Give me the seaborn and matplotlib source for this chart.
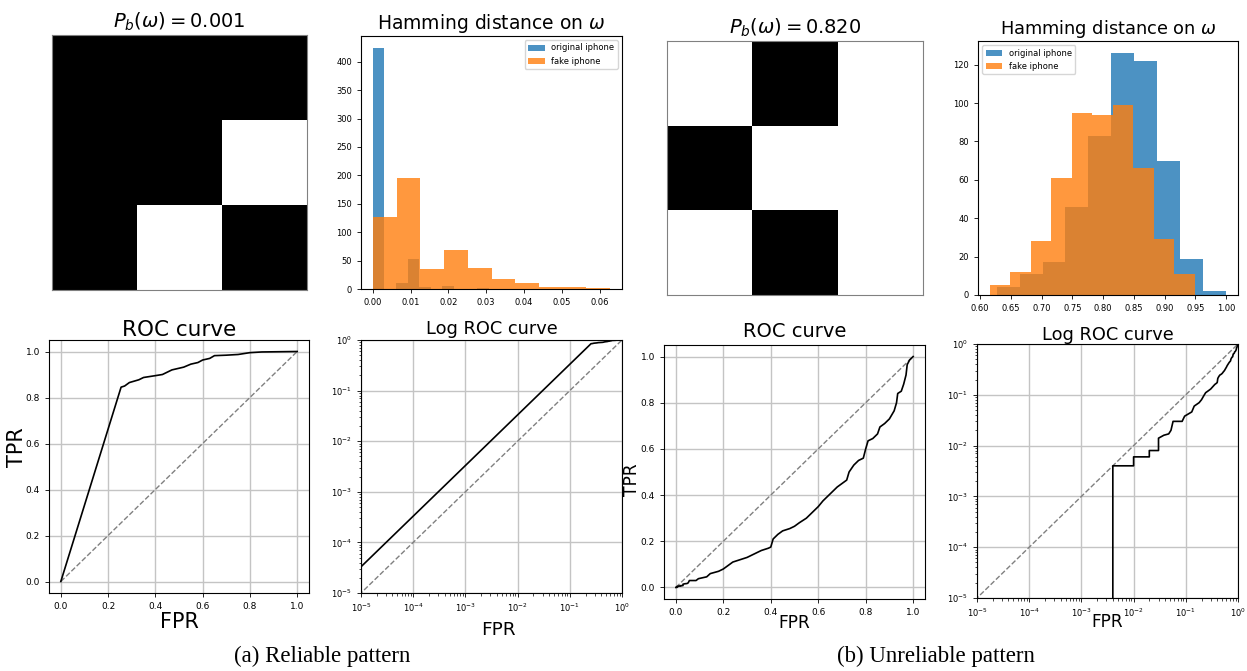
"""Reliable vs unreliable pattern: patterns, Hamming histograms and ROC curves"""

import matplotlib
matplotlib.use("Agg")
import matplotlib.pyplot as plt
from matplotlib.colors import ListedColormap
from matplotlib.patches import Patch
import numpy as np
import seaborn as sns

W, H = 1247, 671

# 3x3 patterns, 1 = white cell, 0 = black cell
PATTERN_A = [[0, 0, 0], [0, 0, 1], [0, 1, 0]]
PATTERN_B = [[1, 0, 1], [0, 1, 1], [1, 0, 1]]
PB_A = 0.001
PB_B = 0.820

# Hamming-distance histograms (bin edges + counts)
H1_ORIG_EDGES = [0.0, 0.00307, 0.00614, 0.00921, 0.01228, 0.01535,
                 0.01842, 0.02149, 0.02456, 0.02763, 0.0307]
H1_ORIG_COUNTS = [424, 0, 11, 53, 4, 0, 6, 0, 0, 2]
H1_FAKE_EDGES = [0.0, 0.00628, 0.01256, 0.01884, 0.02512, 0.0314,
                 0.03768, 0.04396, 0.05024, 0.05652, 0.0628]
H1_FAKE_COUNTS = [127, 195, 36, 69, 37, 18, 10, 3, 3, 2]

H2_ORIG_EDGES = [0.627, 0.6643, 0.7016, 0.7389, 0.7762, 0.8135,
                 0.8508, 0.8881, 0.9254, 0.9627, 1.0]
H2_ORIG_COUNTS = [4, 11, 17, 46, 83, 126, 122, 70, 19, 2]
H2_FAKE_EDGES = [0.616, 0.6493, 0.6826, 0.7159, 0.7492, 0.7825,
                 0.8158, 0.8491, 0.8824, 0.9157, 0.949]
H2_FAKE_COUNTS = [5, 12, 28, 61, 95, 94, 99, 66, 29, 11]

# ROC curves
FPR_A = [0.0, 0.255, 0.27, 0.29, 0.33, 0.35, 0.40, 0.43, 0.47, 0.52, 0.55,
         0.58, 0.60, 0.63, 0.65, 0.70, 0.75, 0.80, 0.85, 1.0]
TPR_A = [0.0, 0.845, 0.85, 0.865, 0.877, 0.887, 0.895, 0.90, 0.92, 0.932, 0.945,
         0.952, 0.963, 0.97, 0.982, 0.984, 0.987, 0.995, 0.998, 1.0]

FPR_B = [0.0, 0.004, 0.004, 0.01, 0.01, 0.02, 0.02, 0.03, 0.03, 0.038, 0.047,
         0.052, 0.057, 0.085, 0.095, 0.13, 0.145, 0.18, 0.20, 0.22, 0.24, 0.27,
         0.30, 0.33, 0.36, 0.39, 0.40, 0.41, 0.43, 0.45, 0.48, 0.50, 0.52, 0.55,
         0.57, 0.60, 0.62, 0.65, 0.68, 0.70, 0.72, 0.73, 0.75, 0.77, 0.79, 0.80,
         0.81, 0.83, 0.85, 0.86, 0.88, 0.90, 0.92, 0.93, 0.935, 0.95, 0.96, 0.97,
         0.975, 0.985, 1.0]
TPR_B = [0.0, 0.0, 0.004, 0.004, 0.006, 0.006, 0.008, 0.008, 0.014, 0.016, 0.017,
         0.02, 0.03, 0.03, 0.038, 0.046, 0.06, 0.07, 0.08, 0.095, 0.11, 0.12,
         0.13, 0.145, 0.16, 0.17, 0.175, 0.21, 0.23, 0.245, 0.255, 0.265, 0.28, 0.30,
         0.32, 0.35, 0.375, 0.405, 0.435, 0.45, 0.465, 0.50, 0.53, 0.55, 0.56, 0.60,
         0.635, 0.645, 0.665, 0.695, 0.71, 0.73, 0.765, 0.80, 0.84, 0.85, 0.88, 0.92,
         0.965, 0.985, 1.0]

BLUE = "#1f77b4"
ORANGE = "#ff7f0e"
GRID = dict(color="#c4c4c4", linewidth=1.0)


def box(x0, y0, x1, y1):
    return [x0 / W, 1 - y1 / H, (x1 - x0) / W, (y1 - y0) / H]


def draw_pattern(ax, pattern, pb):
    sns.heatmap(np.array(pattern), ax=ax, cmap=ListedColormap(["black", "white"]),
                vmin=0, vmax=1, cbar=False, xticklabels=False, yticklabels=False)
    for sp in ax.spines.values():
        sp.set_visible(True)
        sp.set_color("#808080")
        sp.set_linewidth(0.8)
    ax.set_title(rf"$P_b(\omega) = {pb:.3f}$", fontsize=14, pad=5)


def draw_hist(ax, orig_edges, orig_counts, fake_edges, fake_counts, loc, title_size):
    for edges, counts, color in ((orig_edges, orig_counts, BLUE),
                                 (fake_edges, fake_counts, ORANGE)):
        centers = [(a + b) / 2 for a, b in zip(edges[:-1], edges[1:])]
        sns.histplot(x=centers, weights=counts, bins=edges, color=color,
                     alpha=0.8, linewidth=0, ax=ax)
    ax.set_xlabel("")
    ax.set_ylabel("")
    ax.set_title(r"Hamming distance on $\omega$", fontsize=title_size, pad=5)
    ax.tick_params(labelsize=6, length=3, width=0.6)
    handles = [Patch(facecolor=BLUE, alpha=0.8, label="original iphone"),
               Patch(facecolor=ORANGE, alpha=0.8, label="fake iphone")]
    ax.legend(handles=handles, loc=loc, fontsize=6)


def draw_roc(ax, fpr, tpr, title_size, label_size, ylabel_xy, xlabel_y, pad):
    ax.plot([0, 1], [0, 1], linestyle="--", color="gray", linewidth=1.0)
    sns.lineplot(x=fpr, y=tpr, sort=False, estimator=None, color="black",
                 linewidth=1.2, ax=ax)
    ax.set_xticks([0.0, 0.2, 0.4, 0.6, 0.8, 1.0])
    ax.set_yticks([0.0, 0.2, 0.4, 0.6, 0.8, 1.0])
    ax.grid(True, **GRID)
    ax.set_axisbelow(True)
    ax.tick_params(labelsize=6.5, length=3, width=0.6)
    ax.set_title("ROC curve", fontsize=title_size, pad=pad)
    ax.set_xlabel("FPR", fontsize=label_size)
    ax.set_ylabel("TPR", fontsize=label_size)
    ax.xaxis.set_label_coords(0.5, xlabel_y)
    ax.yaxis.set_label_coords(*ylabel_xy)


def draw_log_roc(ax, fpr, tpr, label_size, xlabel_xy, pad):
    ax.set_xscale("log")
    ax.set_yscale("log")
    ax.plot([0, 1], [0, 1], linestyle="--", color="gray", linewidth=1.0)
    ax.plot(fpr, tpr, color="black", linewidth=1.2)
    ax.set_xlim(1e-5, 1)
    ax.set_ylim(1e-5, 1)
    ax.grid(True, which="major", **GRID)
    ax.set_axisbelow(True)
    ax.tick_params(which="major", labelsize=6, length=3, width=0.6)
    ax.tick_params(which="minor", length=1.8, width=0.5)
    ax.set_title("Log ROC curve", fontsize=12.8, pad=pad)
    ax.set_xlabel("FPR", fontsize=label_size)
    ax.xaxis.set_label_coords(*xlabel_xy)


def main():
    fig = plt.figure(figsize=(W / 100, H / 100), dpi=100)

    ax = fig.add_axes(box(52, 35, 307, 290))
    draw_pattern(ax, PATTERN_A, PB_A)

    ax = fig.add_axes(box(361, 36, 622, 289))
    draw_hist(ax, H1_ORIG_EDGES, H1_ORIG_COUNTS, H1_FAKE_EDGES, H1_FAKE_COUNTS,
              "upper right", 13.5)

    ax = fig.add_axes(box(667, 41, 923, 295))
    draw_pattern(ax, PATTERN_B, PB_B)

    ax = fig.add_axes(box(978, 41, 1238, 295))
    draw_hist(ax, H2_ORIG_EDGES, H2_ORIG_COUNTS, H2_FAKE_EDGES, H2_FAKE_COUNTS,
              "upper left", 12.8)

    ax = fig.add_axes(box(49, 340, 309, 593))
    draw_roc(ax, FPR_A, TPR_A, 15.5, 15, (-0.085, 0.577), -0.075, 3)

    ax = fig.add_axes(box(361, 340, 622, 593))
    draw_log_roc(ax, FPR_A, TPR_A, 13.3, (0.525, -0.11), 4)

    ax = fig.add_axes(box(664, 345, 925, 599))
    draw_roc(ax, FPR_B, TPR_B, 14, 12.3, (-0.088, 0.469), -0.059, 6)

    ax = fig.add_axes(box(977, 344, 1238, 598))
    draw_log_roc(ax, FPR_B, TPR_B, 12.2, (0.5, -0.059), 3)

    cap = dict(fontsize=16.5, family=["Liberation Serif", "DejaVu Serif"],
               ha="center", va="center")
    fig.text(322 / W, 1 - 656 / H, "(a) Reliable pattern", **cap)
    fig.text(936 / W, 1 - 656 / H, "(b) Unreliable pattern", **cap)

    fig.savefig("out.png", dpi=100)
    plt.close(fig)


if __name__ == "__main__":
    main()
